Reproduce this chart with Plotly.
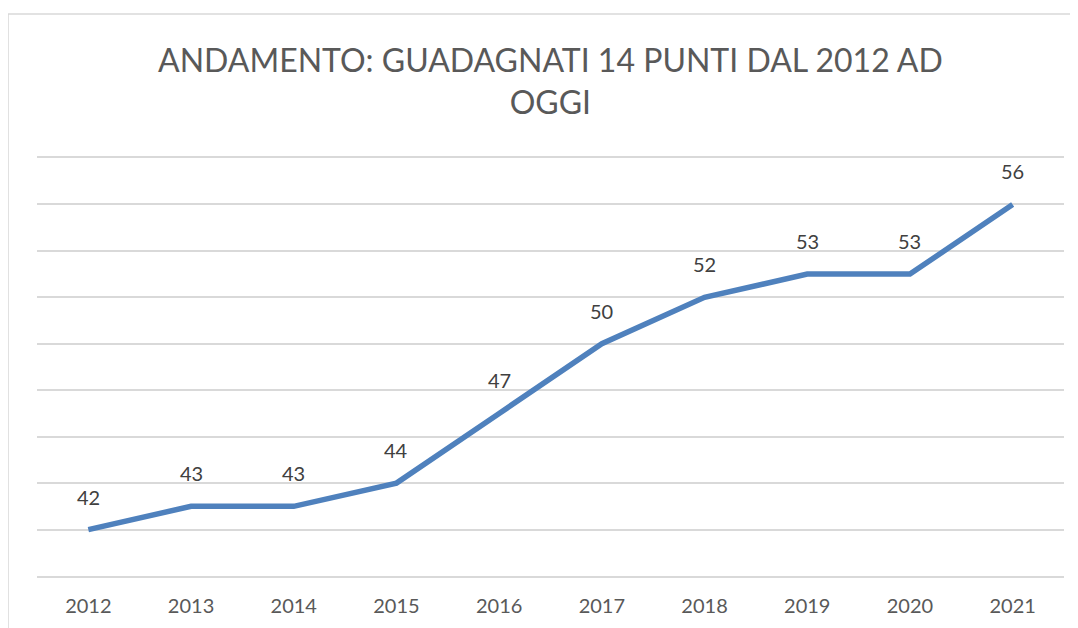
import plotly.graph_objects as go

years = ["2012", "2013", "2014", "2015", "2016", "2017", "2018", "2019", "2020", "2021"]
values = [42, 43, 43, 44, 47, 50, 52, 53, 53, 56]
title_text = "ANDAMENTO: GUADAGNATI 14 PUNTI DAL 2012 AD<br>OGGI"

FONT = "Lato"
fig = go.Figure()
fig.add_trace(go.Scatter(
    x=years, y=values, mode="lines",
    line=dict(color="#4F81BD", width=5.5, shape="linear"),
    hoverinfo="skip", showlegend=False,
))

for i, (xv, yv) in enumerate(zip(years, values)):
    fig.add_annotation(x=i, y=yv, text=str(yv), showarrow=False,
                       xanchor="center", yanchor="middle", yshift=33,
                       font=dict(family=FONT, size=20, color="#404040"))

fig.add_annotation(xref="paper", yref="paper", x=0.5, y=1.1866,
                   text=title_text, showarrow=False, xanchor="center", yanchor="middle",
                   font=dict(family=FONT, size=32, color="#595959"))

# outer chart border (continues beyond the right and bottom edges)
fig.add_shape(type="rect", xref="paper", yref="paper",
              x0=-0.0282, x1=1.5, y0=-0.8, y1=1.3445,
              line=dict(color="#d9d9d9", width=1.5), fillcolor="rgba(0,0,0,0)", layer="below")

fig.update_layout(
    width=1070, height=620,
    margin=dict(l=29, r=14, t=150, b=52, autoexpand=False),
    paper_bgcolor="white", plot_bgcolor="white",
    xaxis=dict(type="category", range=[-0.5, 9.5], showgrid=False, zeroline=False,
               showline=True, mirror=True, linecolor="#d9d9d9", linewidth=1.5, ticks="",
               tickfont=dict(family=FONT, size=20, color="#595959"),
               ticklabelstandoff=11, automargin=False, fixedrange=True),
    yaxis=dict(range=[40, 58], tickvals=list(range(40, 59, 2)), showticklabels=False,
               showgrid=True, gridcolor="#d9d9d9", gridwidth=1.5, zeroline=False,
               showline=False, ticks="", automargin=False, fixedrange=True),
)

fig.write_html("out.html")
